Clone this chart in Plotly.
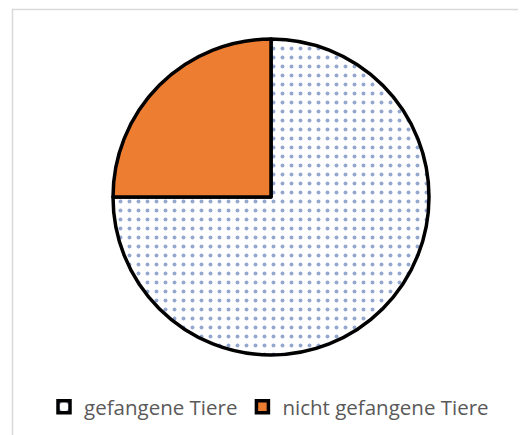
import plotly.graph_objects as go

labels = ["gefangene Tiere", "nicht gefangene Tiere"]
values = [75, 25]
fill_colors = ["white", "#ED7D31"]

W, H = 526, 435
OFF = 8  # default page body margin
cx, cy, r = 271 - OFF, 197 - OFF, 158

fig = go.Figure(go.Pie(
    labels=labels,
    values=values,
    sort=False,
    direction="clockwise",
    rotation=0,
    textinfo="none",
    hoverinfo="label+percent",
    marker=dict(
        colors=fill_colors,
        line=dict(color="black", width=3.5),
        pattern=dict(shape=[".", ""], fgcolor="#2A4FA0", bgcolor="white",
                     size=9, solidity=0.15, fillmode="overlay"),
    ),
    domain=dict(x=[(cx - r) / W, (cx + r) / W],
                y=[(H - cy - r) / H, (H - cy + r) / H]),
))

fig.update_layout(
    width=W, height=H,
    margin=dict(l=0, r=0, t=0, b=0),
    paper_bgcolor="white",
    plot_bgcolor="white",
    showlegend=True,
    legend=dict(orientation="h", x=(269 - OFF) / W, xanchor="center",
                y=(H - (407 - OFF)) / H, yanchor="middle",
                font=dict(family="Open Sans, sans-serif", size=20.5, color="#595959"),
                traceorder="normal"),
    shapes=[dict(type="rect", xref="paper", yref="paper",
                 x0=(12.5 - OFF) / W, x1=1.1, y0=-0.1, y1=(H - (9.5 - OFF)) / H,
                 line=dict(color="#D9D9D9", width=1.5), fillcolor="rgba(0,0,0,0)")],
)

fig.write_html("out.html")
